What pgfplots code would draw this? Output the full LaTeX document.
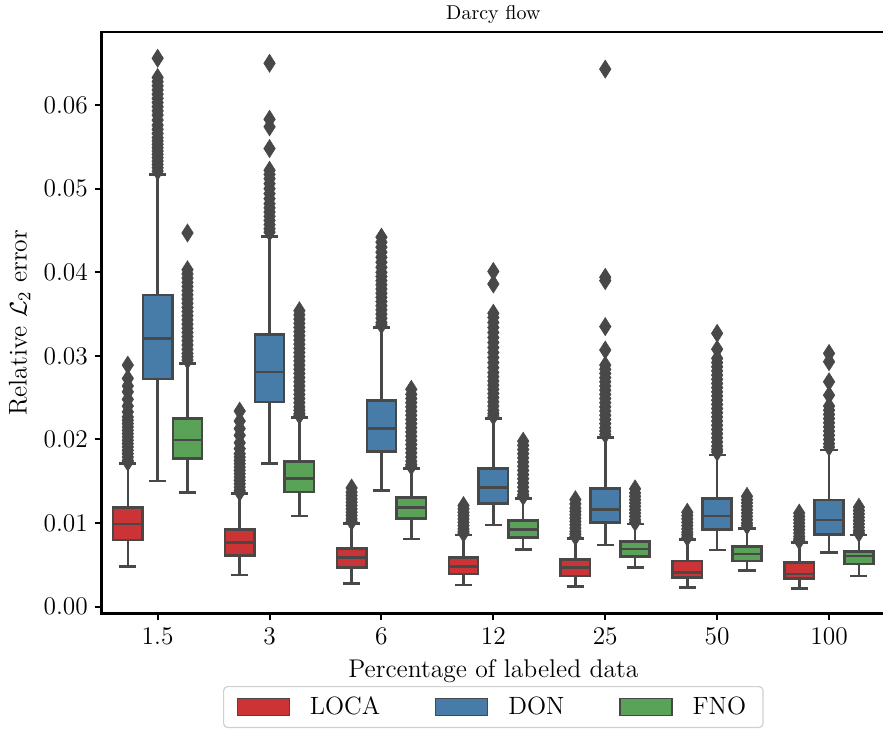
\documentclass[border=0pt]{standalone}
\usepackage{pgfplots}
\pgfplotsset{compat=1.18}
\usepgfplotslibrary{statistics}

% Set1 palette, desaturated as seaborn draws it
\definecolor{cLOCA}{RGB}{203,51,53}
\definecolor{cDON}{RGB}{71,124,168}
\definecolor{cFNO}{RGB}{89,162,87}
\definecolor{lgray}{RGB}{72,72,72}
\definecolor{legframe}{RGB}{208,208,208}

% #1 position, #2-#6 whisker/quartile/median values, #7 colour, #8 outliers
\newcommand{\bx}[8]{%
  \addplot[boxsty, fill=#7,
    boxplot prepared={draw position=#1, lower whisker=#2, lower quartile=#3,
      median=#4, upper quartile=#5, upper whisker=#6}]
    table[row sep=\\, header=false, y index=0] {#8};
}

\begin{document}
\begin{tikzpicture}
\useasboundingbox (-50.85pt,-57.75pt) rectangle (390.65pt,306.75pt);
\clip (-50.85pt,-57.75pt) rectangle (390.65pt,306.75pt);
\begin{axis}[
  at={(0pt,0pt)}, anchor=south west,
  scale only axis, width=391.65pt, height=290.75pt,
  xmin=-0.5, xmax=6.5, ymin=-0.000813, ymax=0.06874,
  xtick={0,1,2,3,4,5,6}, xticklabels={1.5,3,6,12,25,50,100},
  ytick={0,0.01,0.02,0.03,0.04,0.05,0.06},
  scaled y ticks=false,
  yticklabel style={/pgf/number format/.cd, fixed, fixed zerofill, precision=2, assume math mode=true},
  tick pos=left, tick align=outside, major tick length=3.4pt,
  tick style={black, line width=1pt},
  axis line style={line width=1.3pt},
  ticklabel style={font=\fontsize{12.7}{15}\selectfont},
  label style={font=\fontsize{12.8}{15}\selectfont},
  xlabel={Percentage of labeled data},
  ylabel={Relative $\mathcal{L}_2$ error},
  xlabel style={at={(axis description cs:0.5,-0.1092)}, anchor=base},
  ylabel style={at={(axis description cs:-0.0957,0.5)}, anchor=base},
  boxplot/draw direction=y,
  boxsty/.style={forget plot, draw=lgray, line width=1.3pt, line cap=rect, solid,
    mark=diamond*, mark size=4.5pt,
    mark options={draw=lgray, fill=lgray, line width=0.3pt, xscale=0.85},
    boxplot/box extend=0.2613, boxplot/whisker extend=0.13},
  legend columns=3,
  legend style={at={(axis description cs:0.5,-0.1247)}, anchor=north,
    draw=legframe, line width=0.6pt, rounded corners=2pt,
    font=\fontsize{12.5}{15}\selectfont, inner xsep=6.5pt, inner ysep=3pt,
    /tikz/every odd column/.append style={column sep=8pt},
    /tikz/every even column/.append style={column sep=25.5pt}},
]
% 1.5 %
\bx{-0.2667}{0.00478}{0.00798}{0.00989}{0.01188}{0.0171}{cLOCA}{0.0289\\0.0273\\0.0264\\0.0257\\0.0248\\0.0240\\0.0233\\0.0227\\0.0223\\0.0219\\0.0215\\0.0211\\0.0207\\0.0203\\0.0199\\0.0195\\0.0191\\0.0187\\0.0183\\0.0179\\0.0175\\0.0173\\}
\bx{0}{0.01504}{0.02724}{0.0321}{0.0373}{0.05168}{cDON}{0.0656\\0.0633\\0.0628\\0.0623\\0.0618\\0.0613\\0.0608\\0.0603\\0.0598\\0.0593\\0.0588\\0.0582\\0.0576\\0.0571\\0.0566\\0.0561\\0.0557\\0.0553\\0.0549\\0.0545\\0.0541\\0.0537\\0.0533\\0.0529\\0.0525\\0.0521\\}
\bx{0.2667}{0.01368}{0.01775}{0.01994}{0.02249}{0.02911}{cFNO}{0.0447\\0.0403\\0.0398\\0.0393\\0.0388\\0.0383\\0.0378\\0.0373\\0.0368\\0.0363\\0.0358\\0.0353\\0.0348\\0.0343\\0.0338\\0.0333\\0.0328\\0.0323\\0.0318\\0.0313\\0.0308\\0.0303\\0.0299\\0.0295\\}
% 3 %
\bx{0.7333}{0.00379}{0.0061}{0.0077}{0.00926}{0.01352}{cLOCA}{0.0234\\0.0222\\0.0213\\0.0205\\0.0196\\0.0189\\0.0183\\0.0179\\0.0175\\0.0171\\0.0167\\0.0163\\0.0159\\0.0155\\0.0151\\0.0147\\0.0143\\0.0139\\0.0137\\}
\bx{1}{0.01715}{0.02449}{0.02807}{0.03258}{0.04426}{cDON}{0.0650\\0.0583\\0.0574\\0.0548\\0.0522\\0.0517\\0.0512\\0.0506\\0.0500\\0.0494\\0.0488\\0.0482\\0.0477\\0.0472\\0.0467\\0.0462\\0.0457\\0.0452\\0.0448\\}
\bx{1.2667}{0.01085}{0.01372}{0.01536}{0.01735}{0.02265}{cFNO}{0.0354\\0.0349\\0.0344\\0.0339\\0.0334\\0.0329\\0.0324\\0.0319\\0.0314\\0.0309\\0.0304\\0.0299\\0.0294\\0.0289\\0.0284\\0.0279\\0.0274\\0.0269\\0.0264\\0.0259\\0.0254\\0.0249\\0.0244\\0.0239\\0.0235\\0.0231\\0.0229\\}
% 6 %
\bx{1.7333}{0.0028}{0.00467}{0.00586}{0.00698}{0.00998}{cLOCA}{0.0142\\0.0137\\0.0133\\0.0129\\0.0125\\0.0121\\0.0117\\0.0113\\0.0109\\0.0105\\0.0102\\}
\bx{2}{0.01392}{0.01854}{0.02134}{0.02464}{0.03342}{cDON}{0.0442\\0.0436\\0.0430\\0.0424\\0.0418\\0.0412\\0.0406\\0.0400\\0.0395\\0.0390\\0.0385\\0.0380\\0.0375\\0.0370\\0.0365\\0.0360\\0.0355\\0.0350\\0.0345\\0.0340\\0.0337\\}
\bx{2.2667}{0.0081}{0.01057}{0.01184}{0.01304}{0.01655}{cFNO}{0.0260\\0.0254\\0.0249\\0.0244\\0.0239\\0.0234\\0.0229\\0.0224\\0.0219\\0.0214\\0.0209\\0.0204\\0.0199\\0.0194\\0.0189\\0.0184\\0.0179\\0.0174\\0.0170\\0.0168\\}
% 12 %
\bx{2.7333}{0.0026}{0.00391}{0.00478}{0.00591}{0.00858}{cLOCA}{0.0121\\0.0117\\0.0113\\0.0109\\0.0105\\0.0101\\0.0097\\0.0093\\0.0090\\0.0088\\}
\bx{3}{0.00977}{0.01237}{0.01428}{0.01651}{0.02254}{cDON}{0.0401\\0.0386\\0.0351\\0.0346\\0.0340\\0.0334\\0.0328\\0.0322\\0.0316\\0.0310\\0.0304\\0.0298\\0.0292\\0.0286\\0.0280\\0.0275\\0.0270\\0.0265\\0.0260\\0.0255\\0.0250\\0.0245\\0.0240\\0.0235\\0.0231\\0.0228\\}
\bx{3.2667}{0.00687}{0.0083}{0.00926}{0.01033}{0.01292}{cFNO}{0.0198\\0.0193\\0.0188\\0.0183\\0.0178\\0.0173\\0.0168\\0.0163\\0.0158\\0.0153\\0.0148\\0.0143\\0.0138\\0.0134\\0.0132\\}
% 25 %
\bx{3.7333}{0.00239}{0.00367}{0.00467}{0.00567}{0.00818}{cLOCA}{0.0128\\0.0123\\0.0118\\0.0114\\0.0110\\0.0106\\0.0102\\0.0098\\0.0094\\0.0090\\0.0087\\0.0084\\}
\bx{4}{0.00738}{0.01005}{0.01165}{0.01416}{0.02022}{cDON}{0.0643\\0.0394\\0.0390\\0.0335\\0.0307\\0.0289\\0.0284\\0.0279\\0.0274\\0.0269\\0.0264\\0.0259\\0.0254\\0.0249\\0.0244\\0.0239\\0.0234\\0.0229\\0.0224\\0.0219\\0.0214\\0.0210\\0.0206\\}
\bx{4.2667}{0.00467}{0.00598}{0.0069}{0.00778}{0.00989}{cFNO}{0.0141\\0.0136\\0.0132\\0.0128\\0.0124\\0.0120\\0.0116\\0.0112\\0.0108\\0.0104\\0.0101\\}
% 50 %
\bx{4.7333}{0.00232}{0.00352}{0.00407}{0.00547}{0.00806}{cLOCA}{0.0113\\0.0109\\0.0105\\0.0101\\0.0097\\0.0093\\0.0089\\0.0086\\0.0083\\}
\bx{5}{0.00678}{0.00926}{0.01085}{0.01297}{0.01815}{cDON}{0.0327\\0.0308\\0.0297\\0.0292\\0.0287\\0.0282\\0.0277\\0.0272\\0.0267\\0.0262\\0.0257\\0.0252\\0.0247\\0.0242\\0.0237\\0.0232\\0.0227\\0.0222\\0.0217\\0.0212\\0.0207\\0.0202\\0.0197\\0.0192\\0.0188\\0.0185\\}
\bx{5.2667}{0.0043}{0.00547}{0.0063}{0.00718}{0.00938}{cFNO}{0.0132\\0.0128\\0.0124\\0.0120\\0.0116\\0.0112\\0.0108\\0.0104\\0.0100\\0.0097\\}
% 100 %
\bx{5.7333}{0.0022}{0.0034}{0.00391}{0.00527}{0.0077}{cLOCA}{0.0112\\0.0108\\0.0104\\0.0100\\0.0096\\0.0092\\0.0088\\0.0084\\0.0081\\0.0079\\}
\bx{6}{0.0065}{0.00866}{0.01037}{0.01276}{0.01874}{cDON}{0.0303\\0.0293\\0.0269\\0.0253\\0.0240\\0.0235\\0.0230\\0.0225\\0.0220\\0.0215\\0.0210\\0.0205\\0.0200\\0.0195\\0.0191\\}
\bx{6.2667}{0.00367}{0.00511}{0.00606}{0.00658}{0.00858}{cFNO}{0.0119\\0.0115\\0.0111\\0.0107\\0.0103\\0.0099\\0.0095\\0.0091\\0.0088\\}
% legend patches
\addlegendimage{legend image code/.code={\draw[sharp corners, fill=cLOCA, draw=lgray, line width=0.6pt] (0pt,-4.4pt) rectangle (26pt,4.4pt);}}
\addlegendentry{LOCA}
\addlegendimage{legend image code/.code={\draw[sharp corners, fill=cDON, draw=lgray, line width=0.6pt] (0pt,-4.4pt) rectangle (26pt,4.4pt);}}
\addlegendentry{DON}
\addlegendimage{legend image code/.code={\draw[sharp corners, fill=cFNO, draw=lgray, line width=0.6pt] (0pt,-4.4pt) rectangle (26pt,4.4pt);}}
\addlegendentry{FNO}
\end{axis}
% title, centred over the axis box
\node[anchor=base, font=\fontsize{10}{12}\selectfont, inner sep=0pt] at (195.825pt,296.9pt) {Darcy flow};
\end{tikzpicture}
\end{document}
